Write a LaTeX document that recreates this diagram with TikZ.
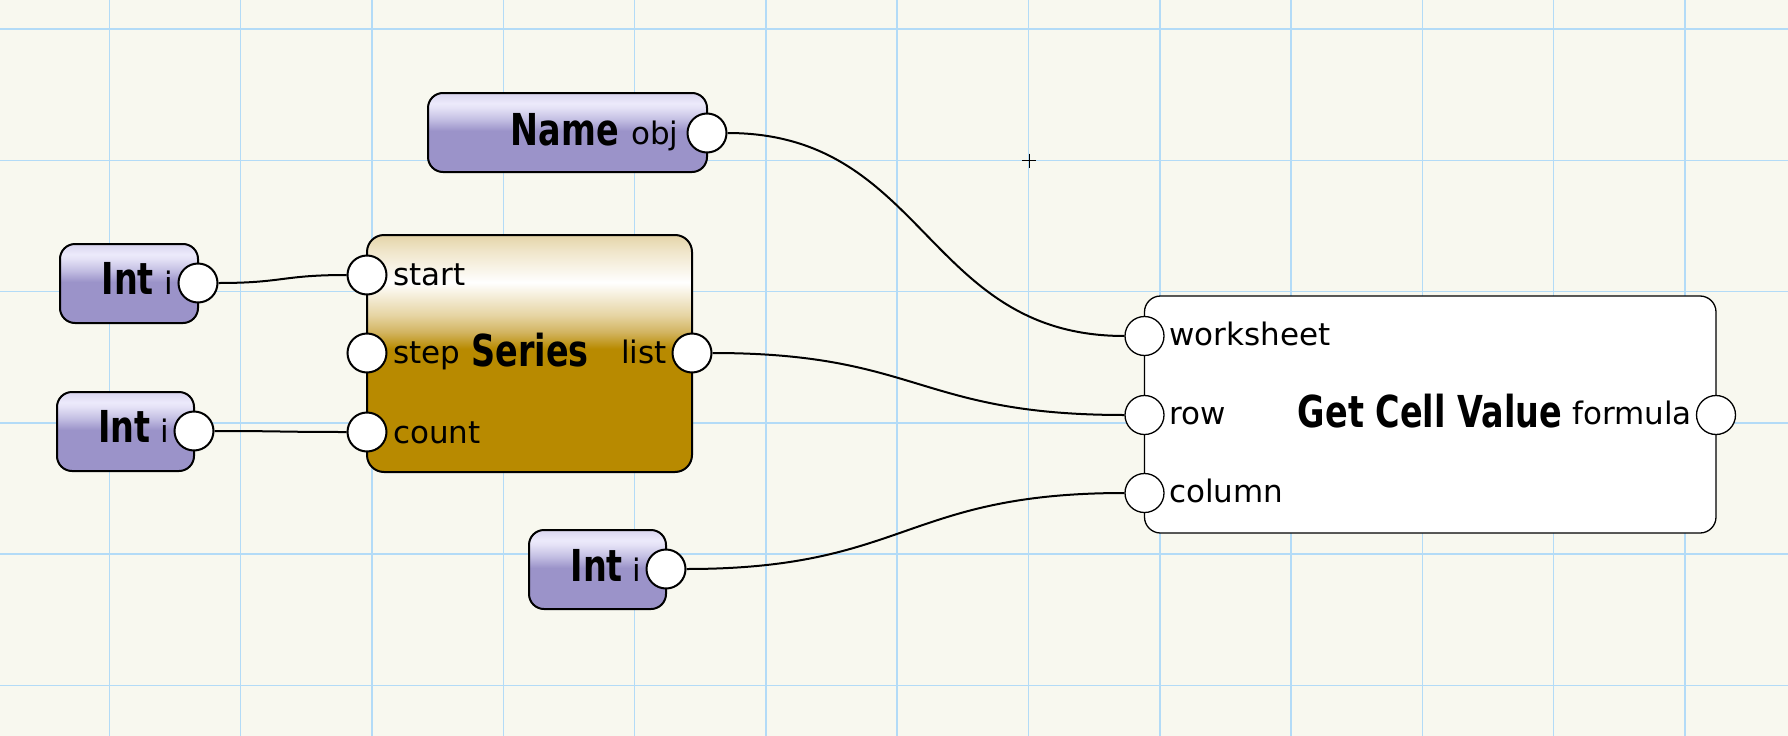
\documentclass[tikz,border=0pt]{standalone}
\usepackage{fontspec}
\setmainfont{DejaVu Sans}
\newfontfamily\titlefont{DejaVu Sans}[FakeStretch=0.76]
\definecolor{bg}{HTML}{F8F8EF}
\definecolor{gridc}{HTML}{B3DBF7}
\definecolor{lavD}{HTML}{9B93C9}
\definecolor{lavM}{HTML}{C2BDE2}
\definecolor{lavL2}{HTML}{E6E3F7}
\definecolor{lavL}{HTML}{ECEAFB}
\definecolor{lavT}{HTML}{D9D5EF}
\definecolor{goldD}{HTML}{B88A00}
\definecolor{goldM}{HTML}{D2B460}
\definecolor{goldT}{HTML}{E6D4A2}
\definecolor{goldW}{HTML}{FFFFFF}
\definecolor{goldL}{HTML}{F0E6CB}
\definecolor{goldTop}{HTML}{E4D4A8}
\pgfdeclareverticalshading{lavshade}{100bp}{color(0bp)=(lavD); color(51bp)=(lavD); color(58bp)=(lavM); color(66bp)=(lavL2); color(68.5bp)=(lavL); color(75bp)=(lavT); color(100bp)=(lavT)}
\pgfdeclareverticalshading{goldshade}{100bp}{color(0bp)=(goldD); color(51bp)=(goldD); color(54.5bp)=(goldM); color(58bp)=(goldT); color(65bp)=(goldW); color(71.5bp)=(goldL); color(75bp)=(goldTop); color(100bp)=(goldTop)}
\tikzset{
  gridline/.style={draw=gridc, line width=1.5pt},
  lavbox/.style={draw=black, line width=2pt, rounded corners=15pt, shading=lavshade, minimum height=79pt, inner sep=0pt},
  goldbox/.style={draw=black, line width=2pt, rounded corners=17pt, shading=goldshade, inner sep=0pt},
  whitebox/.style={draw=black, line width=1.3pt, rounded corners=16pt, fill=white, inner sep=0pt},
  port/.style={circle, draw=black, fill=white, line width=2pt, minimum size=39pt, inner sep=0pt},
  portthin/.style={port, line width=1.3pt},
  lbl/.style={inner sep=0pt, font=\fontsize{31}{36}\selectfont},
  ttl/.style={inner sep=0pt, font=\titlefont\bfseries\fontsize{44}{50}\selectfont},
  wire/.style={draw=black, line width=2pt},
}
\begin{document}
\begin{tikzpicture}[x=1pt,y=-1pt]
\fill[bg] (0,0) rectangle (1788,736);
\useasboundingbox (0,0) rectangle (1788,736);
\foreach \i in {0,...,12} \draw[gridline] ({109.4+131.3*\i},0) -- ++(0,736);
\foreach \j in {0,...,5} \draw[gridline] (0,{29+131.3*\j}) -- ++(1788,0);
\draw[line width=1pt] (1022,160.5) -- (1036,160.5) (1029,153.5) -- (1029,167.5);

% boxes
\node[lavbox, minimum width=279pt] (name) at (567.5,132.5) {};
\node[lavbox, minimum width=138pt] (int1) at (129,283.5) {};
\node[lavbox, minimum width=137pt] (int2) at (125.5,431.5) {};
\node[lavbox, minimum width=137pt] (int3) at (597.5,569.5) {};
\node[goldbox, minimum width=325pt, minimum height=237pt] (series) at (529.5,353.5) {};
\node[whitebox, minimum width=571.5pt, minimum height=237pt] (gcv) at (1430.25,414.5) {};

% texts
\node[ttl, anchor=base east] (tname) at (619,145) {Name};
\node[lbl, anchor=base west] (tobj) at (631,144) {obj};
\node[ttl, anchor=base east] (tint1) at (154,294) {Int};
\node[lbl, anchor=base west] (ti1) at (164.5,294) {i};
\node[ttl, anchor=base east] (tint2) at (150.5,442) {Int};
\node[lbl, anchor=base west] (ti2) at (160.5,442) {i};
\node[ttl, anchor=base east] (tint3) at (623,581) {Int};
\node[lbl, anchor=base west] (ti3) at (632.5,581) {i};
\node[lbl, anchor=base west] (tstart) at (393,285) {start};
\node[lbl, anchor=base west] (tstep) at (393,363) {step};
\node[lbl, anchor=base west] (tcount) at (393,443) {count};
\node[ttl, anchor=base] (tseries) at (530,366) {Series};
\node[lbl, anchor=base east] (tlist) at (667,363) {list};
\node[lbl, anchor=base west] (tws) at (1169,345) {worksheet};
\node[lbl, anchor=base west] (trow) at (1169,424) {row};
\node[lbl, anchor=base west] (tcol) at (1169,502) {column};
\node[ttl, anchor=base] (tgcv) at (1430,427) {Get Cell Value};
\node[lbl, anchor=base east] (tform) at (1692,424) {formula};

% ports
\node[port] (pobj) at (707,133) {};
\node[port] (pi1) at (198,283) {};
\node[port] (pi2) at (194,431) {};
\node[port] (pi3) at (666,569) {};
\node[port] (pstart) at (367,275) {};
\node[port] (pstep) at (367,353) {};
\node[port] (pcount) at (367,432) {};
\node[port] (plist) at (692,353) {};
\node[portthin] (pws) at (1144.5,336) {};
\node[portthin] (prow) at (1144.5,415) {};
\node[portthin] (pcol) at (1144.5,493) {};
\node[portthin] (pform) at (1716,415) {};

% wires
\draw[wire] (pobj.east) .. controls +(199,0) and +(-199,0) .. (pws.west);
\draw[wire] (pi1.east) .. controls +(65,0) and +(-65,0) .. (pstart.west);
\draw[wire] (pi2.east) .. controls +(67,0) and +(-67,0) .. (pcount.west);
\draw[wire] (plist.east) .. controls +(207,0) and +(-207,0) .. (prow.west);
\draw[wire] (pi3.east) .. controls +(220,0) and +(-220,0) .. (pcol.west);
\end{tikzpicture}
\end{document}
